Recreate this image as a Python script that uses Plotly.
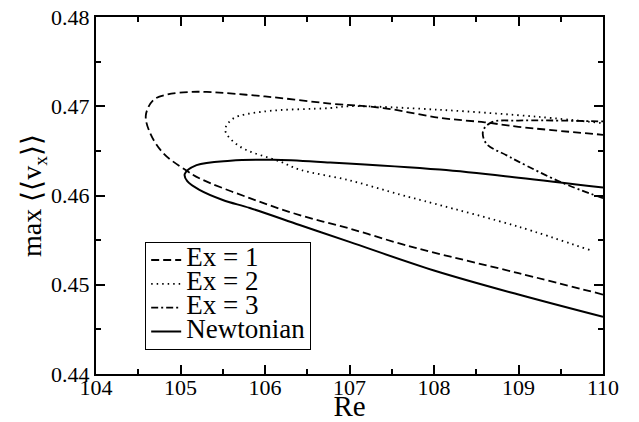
import plotly.graph_objects as go

# Data (each curve traced from lower-branch end, through the nose, to upper-branch end)
newt_re = [110.0, 109.0, 108.0, 107.0, 106.41, 105.82, 105.5, 105.23, 105.08, 105.05,
           105.19, 105.59, 106.1, 106.77, 108.07, 109.0, 110.0]
newt_v = [0.4464, 0.4489, 0.4516, 0.4548, 0.4567, 0.4586, 0.4595, 0.4606, 0.4616, 0.4624,
          0.4634, 0.4639, 0.4640, 0.4637, 0.4629, 0.4620, 0.4609]

ex1_re = [110.0, 109.0, 108.0, 107.6, 107.0, 106.41, 105.82, 105.23, 105.07, 104.80, 104.64, 104.59,
          104.68, 104.84, 105.11, 105.31, 106.0, 106.77, 107.4, 108.07, 108.6, 109.0, 110.0]
ex1_v = [0.4489, 0.4513, 0.4536, 0.4546, 0.4563, 0.4578, 0.4597, 0.4619, 0.4628, 0.4647, 0.4670, 0.4690,
         0.4707, 0.4713, 0.4716, 0.4716, 0.4711, 0.4703, 0.4698, 0.4687, 0.4682, 0.4677, 0.4668]

ex2_re = [109.84, 109.0, 108.0, 107.6, 107.0, 106.41, 106.18, 105.70, 105.53,
          105.62, 105.98, 106.77, 107.0, 108.07, 109.25, 110.0]
ex2_v = [0.4539, 0.4565, 0.4591, 0.4601, 0.4617, 0.4629, 0.4638, 0.4655, 0.4673,
         0.4686, 0.4694, 0.4698, 0.4700, 0.4696, 0.4688, 0.4681]

ex3_re = [110.0, 109.5, 109.0, 108.86, 108.62, 108.58, 108.68, 109.0, 110.0]
ex3_v = [0.4597, 0.4615, 0.4638, 0.4645, 0.4658, 0.4672, 0.4682, 0.4684, 0.4683]

series_names = ["Ex = 1", "Ex = 2", "Ex = 3", "Newtonian"]

x_ticks = [104, 105, 106, 107, 108, 109, 110]
y_ticks = [0.44, 0.45, 0.46, 0.47, 0.48]
y_tick_text = ["0.44", "0.45", "0.46", "0.47", "0.48"]

FONT = "Liberation Serif"


def legend_label(s):
    return '<span style="font-size:27px">' + s + '</span>'


fig = go.Figure()
fig.add_trace(go.Scatter(x=ex1_re, y=ex1_v, mode="lines", name=legend_label(series_names[0]),
                         line=dict(color="black", width=1.8, dash="8px,4px", shape="spline")))
fig.add_trace(go.Scatter(x=ex2_re, y=ex2_v, mode="lines", name=legend_label(series_names[1]),
                         line=dict(color="black", width=1.8, dash="1.5px,4px", shape="spline")))
fig.add_trace(go.Scatter(x=ex3_re, y=ex3_v, mode="lines", name=legend_label(series_names[2]),
                         line=dict(color="black", width=1.8, dash="7px,3px,2px,3px", shape="spline")))
fig.add_trace(go.Scatter(x=newt_re, y=newt_v, mode="lines", name=legend_label(series_names[3]),
                         line=dict(color="black", width=2, shape="spline")))

axis_common = dict(
    showgrid=False, zeroline=False,
    showline=True, linecolor="black", linewidth=2, mirror="ticks",
    ticks="inside", ticklen=9, tickwidth=1.5, tickcolor="black",
    tickfont=dict(family=FONT, size=22, color="black"),
    automargin=False,
)

fig.update_xaxes(
    range=[104, 110], tickvals=x_ticks, ticktext=[str(v) for v in x_ticks],
    minor=dict(ticks="inside", ticklen=5, tickwidth=1.5, tickcolor="black", dtick=0.5, showgrid=False),
    title=dict(text="Re", font=dict(family=FONT, size=29, color="black"), standoff=0),
    ticklabelstandoff=-7,
    **axis_common,
)
fig.update_yaxes(
    range=[0.44, 0.48], tickvals=y_ticks, ticktext=y_tick_text,
    minor=dict(ticks="inside", ticklen=5, tickwidth=1.5, tickcolor="black", dtick=0.005, showgrid=False),
    title=dict(text="max \u27e8\u27e8v<sub>x</sub>\u27e9\u27e9", font=dict(family=FONT, size=28, color="black"), standoff=0),
    ticklabelstandoff=0,
    **axis_common,
)

fig.update_layout(
    width=639, height=422,
    margin=dict(l=96, r=36, t=17, b=48),
    paper_bgcolor="white", plot_bgcolor="white",
    font=dict(family=FONT, color="black"),
    legend=dict(
        x=0.097, y=0.067, xanchor="left", yanchor="bottom",
        bordercolor="black", borderwidth=1, bgcolor="white",
        font=dict(family=FONT, size=16, color="black"),
        tracegroupgap=0, itemwidth=30,
    ),
    showlegend=True,
)

fig.write_html("out.html", config={"displayModeBar": False},
               post_script="document.body.style.margin='0px';")
